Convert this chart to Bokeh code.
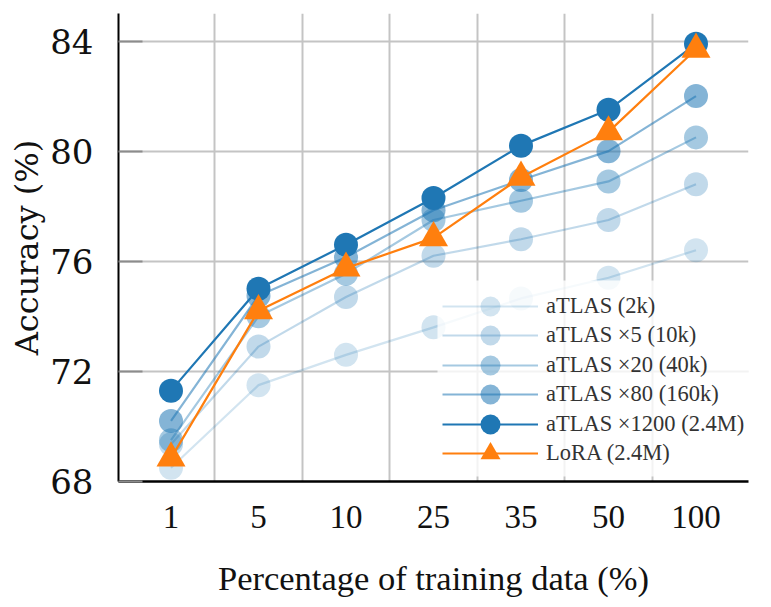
from bokeh.plotting import figure
from bokeh.models import FixedTicker, Range1d, Legend, LegendItem, BoxAnnotation
from bokeh.embed import file_html
from bokeh.resources import INLINE

x_labels = ["1", "5", "10", "25", "35", "50", "100"]
x_idx = list(range(len(x_labels)))

atlas_2k = [68.5, 71.5, 72.6, 73.6, 74.65, 75.4, 76.4]
atlas_x5 = [69.35, 72.9, 74.7, 76.2, 76.8, 77.5, 78.8]
atlas_x20 = [69.5, 74.0, 75.55, 77.5, 78.2, 78.9, 80.5]
atlas_x80 = [70.2, 74.75, 76.15, 77.85, 78.95, 80.0, 82.0]
atlas_x1200 = [71.3, 75.0, 76.6, 78.3, 80.2, 81.5, 83.9]
lora = [68.85, 74.2, 75.75, 76.85, 79.05, 80.7, 83.7]

y_ticks = [68, 72, 76, 80, 84]

p = figure(width=763, height=599, output_backend="svg", toolbar_location=None,
           x_range=Range1d(-0.6, 6.6), y_range=Range1d(68, 85))
p.min_border_left = 118
p.min_border_right = 15
p.min_border_top = 13
p.min_border_bottom = 118
p.outline_line_color = None
p.background_fill_color = "white"

BLUE = "#1f77b4"
ORANGE = "#ff7f0e"

series = [
    ("aTLAS (2k)", atlas_2k, 0.2),
    ("aTLAS \u00d75 (10k)", atlas_x5, 0.28),
    ("aTLAS \u00d720 (40k)", atlas_x20, 0.4),
    ("aTLAS \u00d780 (160k)", atlas_x80, 0.55),
    ("aTLAS \u00d71200 (2.4M)", atlas_x1200, 1.0),
]

items = []
for name, ys, a in series:
    l = p.line(x_idx, ys, line_color=BLUE, line_alpha=a, line_width=2.2)
    s = p.scatter(x_idx, ys, marker="circle", size=24, fill_color=BLUE, fill_alpha=a,
                  line_color=None)
    items.append(LegendItem(label=name, renderers=[l, s]))

l = p.line(x_idx, lora, line_color=ORANGE, line_width=2.2)
s = p.scatter(x_idx, lora, marker="triangle", size=29, fill_color=ORANGE, line_color=None)
items.append(LegendItem(label="LoRA (2.4M)", renderers=[l, s]))

# legend background (screen units relative to the frame)
bg = BoxAnnotation(left=319, right=632, bottom=5, top=201,
                   left_units="screen", right_units="screen",
                   bottom_units="screen", top_units="screen",
                   fill_color="white", fill_alpha=0.8, line_color=None)
p.add_layout(bg)

# one legend box per row so that legend markers can be drawn larger
row_pitch = 29.4
first_row = 175.0   # row centre, px above the frame bottom
gh = 50
for k, it in enumerate(items):
    lg = Legend(items=[it], location=(324, first_row - k * row_pitch - gh / 2))
    lg.label_text_font = "Liberation Serif"
    lg.label_text_font_size = "22.5px"
    lg.label_text_color = "#333333"
    lg.glyph_width = 96
    lg.glyph_height = gh
    lg.spacing = 0
    lg.padding = 0
    lg.margin = 0
    lg.label_standoff = 8
    lg.border_line_alpha = 0
    lg.background_fill_alpha = 0
    p.add_layout(lg, "center")

# grids
p.xgrid.ticker = FixedTicker(ticks=[0.5, 1.5, 2.5, 3.5, 4.5, 5.5])
p.ygrid.ticker = FixedTicker(ticks=y_ticks)
for g in (p.xgrid, p.ygrid):
    g.grid_line_color = "#c4c4c4"
    g.grid_line_width = 2

# x axis
xa = p.xaxis[0]
xa.ticker = FixedTicker(ticks=x_idx)
xa.major_label_overrides = {i: t for i, t in zip(x_idx, x_labels)}
xa.major_tick_line_color = None
xa.minor_tick_line_color = None
xa.axis_line_color = "black"
xa.axis_line_width = 2.5
xa.major_label_text_font = "Liberation Serif"
xa.major_label_text_font_size = "33px"
xa.major_label_text_color = "#111111"
xa.major_label_standoff = 18
xa.axis_label = "Percentage of training data (%)"
xa.axis_label_text_font = "Liberation Serif"
xa.axis_label_text_font_size = "34.5px"
xa.axis_label_text_font_style = "normal"
xa.axis_label_text_color = "#111111"
xa.axis_label_standoff = 28

# y axis
ya = p.yaxis[0]
ya.ticker = FixedTicker(ticks=y_ticks)
ya.major_tick_in = 24
ya.major_tick_out = 0
ya.major_tick_line_color = "#8c8c8c"
ya.major_tick_line_width = 2
ya.minor_tick_line_color = None
ya.axis_line_color = "black"
ya.axis_line_width = 2
ya.major_label_text_font = "DejaVu Serif"
ya.major_label_text_font_size = "34px"
ya.major_label_text_color = "#111111"
ya.major_label_standoff = 25
ya.axis_label = "Accuracy (%)"
ya.axis_label_text_font = "DejaVu Serif"
ya.axis_label_text_font_size = "32px"
ya.axis_label_text_font_style = "normal"
ya.axis_label_text_color = "#111111"
ya.axis_label_standoff = 1

open("out.html", "w").write(file_html(p, INLINE))
